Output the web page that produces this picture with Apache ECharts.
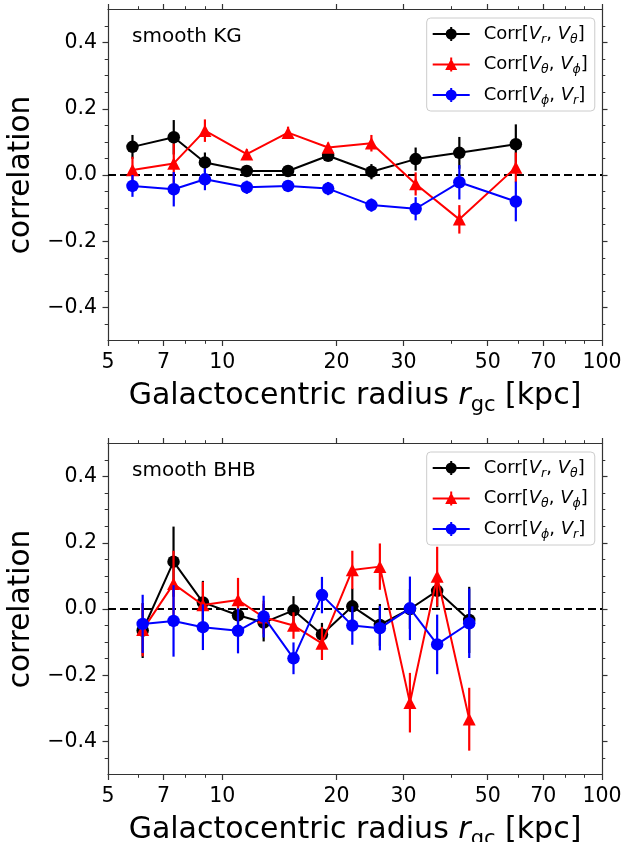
<!DOCTYPE html>
<html>
<head>
<meta charset="utf-8">
<script src="https://cdn.jsdelivr.net/npm/echarts@6/dist/echarts.min.js"></script>
<style>html,body{margin:0;padding:0;background:#fff}#c{width:632px;height:842px}</style>
</head>
<body>
<div id="c"></div>
<script>
// ---------- DATA ----------
const xTickLabels = [5, 7, 10, 20, 30, 50, 70, 100];
const xMinorTicks = [6, 8, 9, 40, 60, 80, 90];
const yTickLabels = [-0.4, -0.2, 0, 0.2, 0.4];
const yMinorTicks = [-0.45, -0.35, -0.3, -0.25, -0.15, -0.1, -0.05, 0.05, 0.1, 0.15, 0.25, 0.3, 0.35, 0.45];

// smooth KG
const kgR      = [5.8, 7.45, 9.0, 11.6, 14.9, 19.0, 24.7, 32.3, 42.1, 59.3];
const kgRT     = [0.085, 0.114, 0.038, 0.012, 0.012, 0.058, 0.010, 0.048, 0.067, 0.093];
const kgRTerr  = [0.036, 0.052, 0.030, 0.015, 0.015, 0.015, 0.023, 0.035, 0.048, 0.060];
const kgTP     = [0.015, 0.035, 0.134, 0.063, 0.128, 0.083, 0.096, -0.027, -0.134, 0.023];
const kgTPerr  = [0.040, 0.060, 0.034, 0.015, 0.018, 0.015, 0.025, 0.035, 0.043, 0.045];
const kgPR     = [-0.033, -0.043, -0.013, -0.037, -0.033, -0.041, -0.091, -0.102, -0.022, -0.080];
const kgPRerr  = [0.033, 0.052, 0.033, 0.020, 0.015, 0.020, 0.020, 0.035, 0.052, 0.060];

// smooth BHB
const bhbR     = [6.17, 7.44, 8.89, 11.0, 12.85, 15.4, 18.3, 22.0, 26.0, 31.2, 36.8, 44.7];
const bhbRT    = [-0.065, 0.143, 0.020, -0.019, -0.041, -0.004, -0.077, 0.008, -0.048, 0.000, 0.055, -0.033];
const bhbRTerr = [0.083, 0.106, 0.065, 0.045, 0.057, 0.043, 0.035, 0.054, 0.063, 0.060, 0.050, 0.100];
const bhbTP    = [-0.063, 0.076, 0.012, 0.027, -0.025, -0.050, -0.104, 0.118, 0.128, -0.283, 0.098, -0.333];
const bhbTPerr = [0.080, 0.100, 0.070, 0.067, 0.050, 0.040, 0.050, 0.058, 0.070, 0.090, 0.090, 0.095];
const bhbPR    = [-0.045, -0.036, -0.055, -0.066, -0.023, -0.149, 0.042, -0.050, -0.058, 0.002, -0.107, -0.043];
const bhbPRerr = [0.088, 0.108, 0.069, 0.068, 0.063, 0.048, 0.055, 0.058, 0.067, 0.096, 0.090, 0.105];

const panelTitles = ['smooth KG', 'smooth BHB'];
const legendRich = [
  'Corr[{v|V}{s|r}, {v|V}{s|θ}]',
  'Corr[{v|V}{s|θ}, {v|V}{s|ϕ}]',
  'Corr[{v|V}{s|ϕ}, {v|V}{s|r}]'
];
const colors = ['#000000', '#ff0000', '#0000ff'];

// ---------- STYLE ----------
const FONT = 'DejaVu Sans';
const AX = '#333333';
const grids = [{top: 9.5}, {top: 443.5}];
const GRID_LEFT = 108, GRID_W = 494, GRID_H = 331;

const CIRCLE_ICON = 'path://M0 6H37V8H0Z M17.5 0H19.5V14H17.5Z M13 7A5.5 5.5 0 1 1 24 7A5.5 5.5 0 1 1 13 7Z';
const TRI_ICON = 'path://M0 6H37V8H0Z M17.5 0H19.5V14H17.5Z M18.5 1L24.5 12.5L12.5 12.5Z';

function fmtY(v) {
  const s = Math.abs(v).toFixed(1);
  return v < -1e-9 ? '\u2212' + s : s;
}

const xAxes = [], yAxes = [];
grids.forEach((g, gi) => {
  const base = {gridIndex: gi, type: 'log', logBase: 10, min: 5, max: 100,
    splitLine: {show: false}, minorTick: {show: false}, minorSplitLine: {show: false}};
  xAxes.push(Object.assign({}, base, {
    position: 'bottom',
    axisLine: {show: true, onZero: false, lineStyle: {color: AX, width: 1.2}},
    axisTick: {show: true, inside: false, length: 5.5, customValues: xTickLabels, lineStyle: {color: AX, width: 1.2}},
    axisLabel: {show: true, customValues: xTickLabels, margin: 12, fontSize: 20.5, fontFamily: FONT, color: '#000',
      formatter: v => String(Math.round(v))},
    name: 'Galactocentric radius {i|r}{s|gc} [kpc]',
    nameLocation: 'middle', nameGap: 36,
    nameTextStyle: {fontSize: 30, fontFamily: FONT, color: '#000', lineHeight: 40,
      rich: {i: {fontSize: 30, fontFamily: FONT, fontStyle: 'italic', color: '#000', lineHeight: 40},
             s: {fontSize: 21, fontFamily: FONT, color: '#000', verticalAlign: 'bottom', lineHeight: 40}}}
  }));
  xAxes.push(Object.assign({}, base, {
    position: 'bottom',
    axisLine: {show: false, onZero: false},
    axisTick: {show: true, inside: false, length: 3.3, customValues: xMinorTicks, lineStyle: {color: AX, width: 1}},
    axisLabel: {show: false}
  }));
  xAxes.push(Object.assign({}, base, {
    position: 'top',
    axisLine: {show: true, onZero: false, lineStyle: {color: AX, width: 1.2}},
    axisTick: {show: true, inside: false, length: 5.5, customValues: xTickLabels, lineStyle: {color: AX, width: 1.2}},
    axisLabel: {show: false}
  }));
  xAxes.push(Object.assign({}, base, {
    position: 'top',
    axisLine: {show: false, onZero: false},
    axisTick: {show: true, inside: false, length: 3.3, customValues: xMinorTicks, lineStyle: {color: AX, width: 1}},
    axisLabel: {show: false}
  }));

  const ybase = {gridIndex: gi, type: 'value', min: -0.5, max: 0.5, splitLine: {show: false}};
  yAxes.push(Object.assign({}, ybase, {
    position: 'left',
    axisLine: {show: true, onZero: false, lineStyle: {color: AX, width: 1.2}},
    axisTick: {show: true, inside: false, length: 5.5, customValues: yTickLabels, lineStyle: {color: AX, width: 1.2}},
    axisLabel: {show: true, customValues: yTickLabels, margin: 11, fontSize: 20.5, fontFamily: FONT, color: '#000', formatter: fmtY},
    name: 'correlation', nameLocation: 'middle', nameGap: 66, nameRotate: 90,
    nameTextStyle: {fontSize: 29.5, fontFamily: FONT, color: '#000'}
  }));
  yAxes.push(Object.assign({}, ybase, {
    position: 'left',
    axisLine: {show: false, onZero: false},
    axisTick: {show: true, inside: false, length: 3.3, customValues: yMinorTicks, lineStyle: {color: AX, width: 1}},
    axisLabel: {show: false}
  }));
  yAxes.push(Object.assign({}, ybase, {
    position: 'right',
    axisLine: {show: true, onZero: false, lineStyle: {color: AX, width: 1.2}},
    axisTick: {show: true, inside: false, length: 5.5, customValues: yTickLabels, lineStyle: {color: AX, width: 1.2}},
    axisLabel: {show: false}
  }));
  yAxes.push(Object.assign({}, ybase, {
    position: 'right',
    axisLine: {show: false, onZero: false},
    axisTick: {show: true, inside: false, length: 3.3, customValues: yMinorTicks, lineStyle: {color: AX, width: 1}},
    axisLabel: {show: false}
  }));
});

function errSeries(id, xs, ys, es, color, gi, z) {
  return {
    type: 'custom', name: id, xAxisIndex: gi * 4, yAxisIndex: gi * 4, z: z, silent: true,
    data: xs.map((x, i) => [x, ys[i] - es[i], ys[i] + es[i]]),
    encode: {x: 0, y: [1, 2]},
    renderItem: function (params, api) {
      const p1 = api.coord([api.value(0), api.value(1)]);
      const p2 = api.coord([api.value(0), api.value(2)]);
      return {type: 'line', shape: {x1: p1[0], y1: p1[1], x2: p2[0], y2: p2[1]},
              style: {stroke: color, lineWidth: 2.2}};
    }
  };
}
function lineSeries(name, xs, ys, color, sym, gi, z, extra) {
  return Object.assign({
    type: 'line', name: name, xAxisIndex: gi * 4, yAxisIndex: gi * 4, z: z,
    data: xs.map((x, i) => [x, ys[i]]),
    symbol: sym, symbolSize: sym === 'triangle' ? [13, 12.5] : 12.5,
    showSymbol: true,
    lineStyle: {color: color, width: 2},
    itemStyle: {color: color, borderWidth: 0},
    emphasis: {disabled: true}
  }, extra || {});
}

const zeroLine = {
  silent: true, symbol: ['none', 'none'], z: 2, label: {show: false},
  lineStyle: {color: '#000', type: [8, 4], width: 2},
  data: [{yAxis: 0}]
};

const panels = [
  {xs: kgR, sets: [[kgRT, kgRTerr], [kgTP, kgTPerr], [kgPR, kgPRerr]]},
  {xs: bhbR, sets: [[bhbRT, bhbRTerr], [bhbTP, bhbTPerr], [bhbPR, bhbPRerr]]}
];
const series = [];
panels.forEach((p, gi) => {
  p.sets.forEach((s, k) => {
    const nm = 'p' + gi + '_' + k;
    series.push(errSeries(nm + '_err', p.xs, s[0], s[1], colors[k], gi, 3 + k * 2));
    series.push(lineSeries(nm, p.xs, s[0], colors[k], k === 1 ? 'triangle' : 'circle', gi, 4 + k * 2,
      k === 0 ? {markLine: zeroLine} : null));
  });
});

const legends = grids.map((g, gi) => ({
  orient: 'vertical', left: 426.7, top: g.top + 8.5,
  data: [0, 1, 2].map(k => ({name: 'p' + gi + '_' + k, icon: k === 1 ? TRI_ICON : CIRCLE_ICON})),
  itemWidth: 37, itemHeight: 14, itemGap: 6.5,
  padding: [4, 7, 4, 6],
  backgroundColor: 'rgba(255,255,255,0.8)', borderColor: '#cccccc', borderWidth: 1, borderRadius: 4,
  selectedMode: false, z: 20, symbolKeepAspect: true,
  itemStyle: {borderWidth: 0},
  formatter: n => legendRich[+n.split('_')[1]],
  textStyle: {fontFamily: FONT, fontSize: 18, color: '#000', lineHeight: 24, padding: [0, 0, 0, 9],
    rich: {
      v: {fontFamily: FONT, fontSize: 18, fontStyle: 'italic', color: '#000', lineHeight: 24},
      s: {fontFamily: FONT, fontSize: 12.5, fontStyle: 'italic', color: '#000', lineHeight: 24, verticalAlign: 'bottom'}
    }}
}));

const titles = grids.map((g, gi) => ({
  text: panelTitles[gi], left: 132, top: g.top + 17.5, padding: 0,
  textStyle: {fontFamily: FONT, fontSize: 20, fontWeight: 'normal', color: '#000'}
}));

const chart = echarts.init(document.getElementById('c'), null, {renderer: 'canvas'});
chart.setOption({
  animation: false,
  backgroundColor: '#ffffff',
  textStyle: {fontFamily: FONT},
  title: titles,
  legend: legends,
  grid: grids.map(g => ({left: GRID_LEFT, top: g.top, width: GRID_W, height: GRID_H, containLabel: false, outerBoundsMode: 'none'})),
  xAxis: xAxes,
  yAxis: yAxes,
  series: series
});
</script>
</body>
</html>
